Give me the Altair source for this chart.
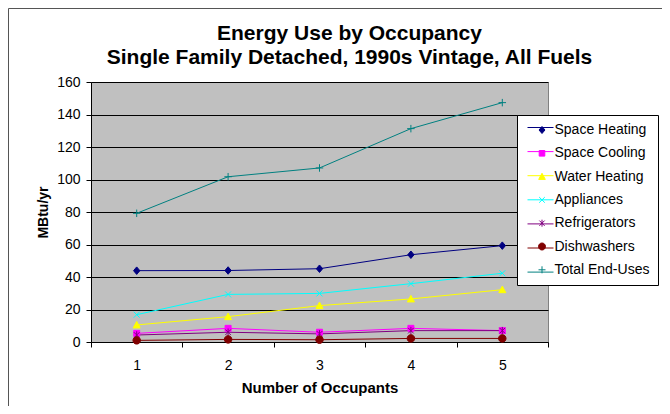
import altair as alt
import pandas as pd

occupants = [1, 2, 3, 4, 5]
series_names = ["Space Heating", "Space Cooling", "Water Heating", "Appliances",
                "Refrigerators", "Dishwashers", "Total End-Uses"]
space_heating = [43.9, 44.0, 45.1, 53.7, 59.3]
space_cooling = [5.3, 8.4, 6.0, 8.4, 7.0]
water_heating = [10.5, 15.6, 22.4, 26.5, 32.2]
appliances = [16.8, 29.3, 29.9, 35.9, 42.3]
refrigerators = [4.3, 6.0, 5.0, 7.0, 7.0]
dishwashers = [1.0, 1.6, 1.4, 2.2, 2.2]
total_end_uses = [79.2, 101.7, 107.1, 131.3, 147.3]
y_ticks = [0, 20, 40, 60, 80, 100, 120, 140, 160]

series_values = [space_heating, space_cooling, water_heating, appliances,
                 refrigerators, dishwashers, total_end_uses]
colors = ["#000080", "#FF00FF", "#FFFF00", "#00FFFF", "#800080", "#800000", "#008080"]
filled = [True, True, True, False, False, True, False]

rows = []
for name, vals in zip(series_names, series_values):
    for o, v in zip(occupants, vals):
        rows.append({"occupants": o, "series": name, "value": v})
df = pd.DataFrame(rows)

marker_paths = [
    "M0,-1L0.85,0L0,1L-0.85,0Z",                                   # diamond
    "M-0.8,-0.8H0.8V0.8H-0.8Z",                                    # square
    "M0,-0.95L0.95,0.8H-0.95Z",                                    # triangle
    "M-0.8,-0.8L0.8,0.8M-0.8,0.8L0.8,-0.8",                        # x
    "M-0.75,-0.75L0.75,0.75M-0.75,0.75L0.75,-0.75M0,-1V1",         # asterisk
    "M-1,0A1,1,0,1,1,1,0A1,1,0,1,1,-1,0Z",                         # circle
    "M-1,0H1M0,-1V1",                                              # plus
]
fill_range = [c if fl else "transparent" for c, fl in zip(colors, filled)]

# marker legend uses its own (padded) domain so it stays separate from the line legend
mark_domain = series_names + ["~"]

# marker legend: box, labels and markers
legend_marks = alt.Legend(
    title=None, orient="none", legendX=426, legendY=33, padding=8,
    fillColor="white", strokeColor="black",
    labelFont="Liberation Sans", labelFontSize=14, labelColor="black", labelOffset=5.5,
    labelExpr="datum.label + ' '",
    symbolSize=49, symbolStrokeWidth=1, symbolOpacity=1, symbolOffset=10,
    rowPadding=9.3, values=series_names, zindex=5)
# line legend: only the short line segments, drawn over the box
legend_lines = alt.Legend(
    title=None, orient="none", legendX=436, legendY=32, padding=0,
    labelFont="Liberation Sans", labelFontSize=14, labelColor="transparent",
    labelExpr="''",
    symbolType="stroke", symbolSize=676, symbolStrokeWidth=1,
    rowPadding=3.1, zindex=6)

x = alt.X("occupants:O",
          scale=alt.Scale(type="band", paddingInner=0, paddingOuter=0),
          axis=alt.Axis(title="Number of Occupants", labelAngle=0, tickBand="extent",
                        grid=False, tickSize=5, labelPadding=11, titlePadding=8))
y = alt.Y("value:Q", scale=alt.Scale(domain=[0, 160], nice=False),
          axis=alt.Axis(title="MBtu/yr", values=y_ticks, grid=True, tickSize=5,
                        labelPadding=6, titlePadding=6))

base = alt.Chart(df)
lines = base.mark_line(strokeWidth=1).encode(
    x=x, y=y,
    color=alt.Color("series:N", scale=alt.Scale(domain=series_names, range=colors),
                    legend=legend_lines))
points = base.mark_point(size=56, opacity=1, strokeWidth=1, filled=False).encode(
    x=x, y=y,
    shape=alt.Shape("series:N", scale=alt.Scale(domain=mark_domain, range=marker_paths + ["M0,0"]),
                    legend=legend_marks),
    fill=alt.Fill("series:N", scale=alt.Scale(domain=mark_domain, range=fill_range + ["transparent"]),
                  legend=legend_marks),
    stroke=alt.Stroke("series:N", scale=alt.Scale(domain=mark_domain, range=colors + ["transparent"]),
                      legend=legend_marks),
)

frame = alt.Chart(pd.DataFrame({"k": [0]})).mark_rect(
    fill=None, stroke="#555555", strokeWidth=1).encode(
    x=alt.value(-82.5), x2=alt.value(700), y=alt.value(-73.5), y2=alt.value(400))

chart = alt.layer(frame, lines, points).properties(
    width=457, height=260,
    padding={"left": 83, "top": 74, "right": 114, "bottom": 64},
    autosize=alt.AutoSizeParams(type="none"),
    title=alt.TitleParams(
        ["Energy Use by Occupancy", "Single Family Detached, 1990s Vintage, All Fuels"],
        font="Liberation Sans", fontSize=21, fontWeight="bold", color="black",
        anchor="middle", frame="group", dx=30, lineHeight=24, offset=-60),
).configure_view(fill="#C0C0C0", stroke="#808080", strokeWidth=1).configure_axis(
    labelFont="Liberation Sans", labelFontSize=14, labelColor="black",
    titleFont="Liberation Sans", titleFontSize=14, titleFontWeight="bold", titleColor="black",
    domainColor="black", tickColor="black", gridColor="black", gridWidth=1,
    domainWidth=1, tickWidth=1,
).configure_axisX(titleFontSize=15)

chart.save("out.html", embed_options={"renderer": "svg", "actions": False})
